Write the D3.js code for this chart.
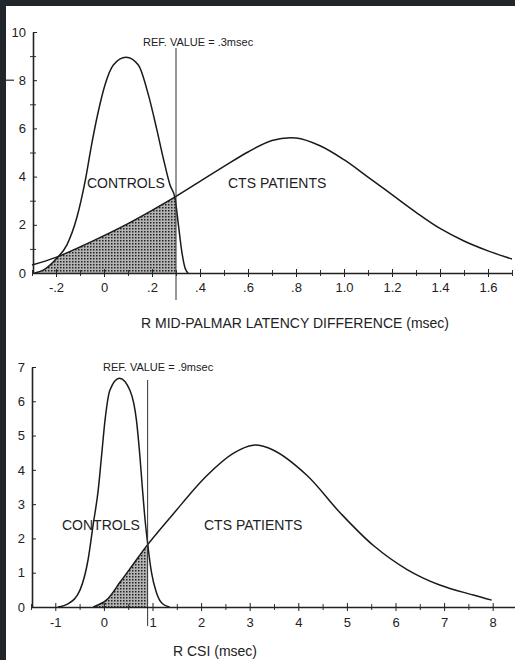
<!DOCTYPE html>
<html>
<head>
<meta charset="utf-8">
<script src="https://cdn.jsdelivr.net/npm/d3@7"></script>
<style>
  body { margin: 0; background: #fff; }
  svg { display: block; font-family: "Liberation Sans", Arial, Helvetica, sans-serif; }
  text { fill: #222; }
</style>
</head>
<body>
<svg width="515" height="660"></svg>
<script>
const svg = d3.select('svg')
const width = +svg.attr('width')
const height = +svg.attr('height')

// ---- top panel: R mid-palmar latency difference ----
const topXTicks = [-0.2, 0, 0.2, 0.4, 0.6, 0.8, 1.0, 1.2, 1.4, 1.6]
const topXLabels = ['-.2', '0', '.2', '.4', '.6', '.8', '1.0', '1.2', '1.4', '1.6']
const topYTicks = [0, 2, 4, 6, 8, 10]
const topRef = 0.3
// [msec, height]
const topControls = [
  [-0.29, 0], [-0.253, 0.12], [-0.197, 0.61], [-0.155, 1.16], [-0.114, 2.27],
  [-0.079, 3.79], [-0.052, 5.31], [-0.024, 6.69], [0.004, 7.8], [0.039, 8.63],
  [0.092, 8.95], [0.143, 8.63], [0.185, 7.39], [0.219, 6.0], [0.247, 4.76],
  [0.275, 3.65], [0.296, 3.1], [0.31, 2.0], [0.324, 0.9], [0.338, 0.2], [0.351, 0]
]
const topPatients = [
  [-0.3, 0.33], [-0.2, 0.65], [-0.1, 1.08], [0, 1.55], [0.1, 2.05], [0.2, 2.6],
  [0.3, 3.18], [0.4, 3.8], [0.5, 4.42], [0.6, 5.02], [0.7, 5.5], [0.8, 5.6],
  [0.9, 5.28], [1.0, 4.7], [1.1, 3.98], [1.2, 3.25], [1.3, 2.52],
  [1.4, 1.85], [1.5, 1.33], [1.6, 0.92], [1.7, 0.58]
]

// ---- bottom panel: R CSI ----
const botXTicks = [-1, 0, 1, 2, 3, 4, 5, 6, 7, 8]
const botXLabels = ['-1', '0', '1', '2', '3', '4', '5', '6', '7', '8']
const botYTicks = [0, 1, 2, 3, 4, 5, 6, 7]
const botRef = 0.9
const botControls = [
  [-0.95, 0], [-0.73, 0.1], [-0.49, 0.5], [-0.323, 1.4], [-0.22, 2.41],
  [-0.117, 3.41], [-0.048, 4.41], [0.021, 5.42], [0.123, 6.32], [0.32, 6.67],
  [0.535, 6.32], [0.672, 5.42], [0.74, 4.41], [0.795, 3.41], [0.85, 2.5],
  [0.9, 1.85], [0.98, 1.0], [1.08, 0.42], [1.2, 0.1], [1.35, 0]
]
const botPatients = [
  [-0.22, 0], [0.05, 0.2], [0.33, 0.72], [0.6, 1.24], [0.9, 1.82],
  [1.43, 2.72], [2.11, 3.82], [2.66, 4.48], [3.07, 4.72], [3.48, 4.58], [4.17, 3.85],
  [4.86, 2.75], [5.54, 1.8], [6.23, 1.1], [6.91, 0.64], [7.6, 0.35], [7.98, 0.2]
]

// stipple used for the overlap
const defs = svg.append('defs')
const pat = defs.append('pattern')
  .attr('id', 'dots').attr('width', 3).attr('height', 3)
  .attr('patternUnits', 'userSpaceOnUse')
pat.append('rect').attr('width', 3).attr('height', 3).attr('fill', '#b4b4b4')
pat.append('rect').attr('width', 1.5).attr('height', 1.5).attr('fill', '#222')

const drawPanel = p => {
  const x = d3.scaleLinear().domain(p.xDomain).range(p.xRange)
  const y = d3.scaleLinear().domain(p.yDomain).range(p.yRange)

  const ctrlLine = d3.line()
    .x(d => x(d[0])).y(d => y(d[1]))
    .curve(d3.curveMonotoneX)
  const ctsLine = d3.line()
    .x(d => x(d[0])).y(d => y(d[1]))
    .curve(d3.curveCatmullRom.alpha(0.5))
  const ctrlArea = d3.area()
    .x(d => x(d[0])).y0(y(0)).y1(d => y(d[1]))
    .curve(d3.curveMonotoneX)
  const ctsArea = d3.area()
    .x(d => x(d[0])).y0(y(0)).y1(d => y(d[1]))
    .curve(d3.curveCatmullRom.alpha(0.5))

  // shaded part = under both curves, left of the reference value
  defs.append('clipPath').attr('id', p.id + '-ctrl')
    .append('path').attr('d', ctrlArea(p.controls))
  defs.append('clipPath').attr('id', p.id + '-ref')
    .append('rect')
      .attr('x', x(p.xDomain[0])).attr('y', 0)
      .attr('width', x(p.ref) - x(p.xDomain[0])).attr('height', height)

  svg.append('g').attr('clip-path', `url(#${p.id}-ref)`)
    .append('path')
      .attr('d', ctsArea(p.patients))
      .attr('clip-path', `url(#${p.id}-ctrl)`)
      .attr('fill', 'url(#dots)')

  svg.append('path')
    .attr('d', ctrlLine(p.controls))
    .attr('fill', 'none').attr('stroke', '#1a1a1a').attr('stroke-width', 1.5)
  svg.append('path')
    .attr('d', ctsLine(p.patients))
    .attr('fill', 'none').attr('stroke', '#1a1a1a').attr('stroke-width', 1.5)

  // reference line
  svg.append('line')
    .attr('x1', x(p.ref)).attr('x2', x(p.ref))
    .attr('y1', p.refTop).attr('y2', p.refBottom)
    .attr('stroke', '#333').attr('stroke-width', 1)

  // x axis: minor ticks, then major ticks with labels
  const xMinor = svg.append('g')
    .attr('transform', `translate(0,${y(0)})`)
    .call(d3.axisBottom(x).tickValues(p.xMinor).tickFormat('').tickSizeOuter(0))
  xMinor.select('.domain').remove()
  xMinor.selectAll('.tick line').attr('y1', -3).attr('y2', 3).attr('stroke', '#333')

  const xAxisG = svg.append('g')
    .attr('transform', `translate(0,${y(0)})`)
    .call(d3.axisBottom(x)
      .tickValues(p.xTicks)
      .tickFormat((d, i) => p.xLabels[i])
      .tickSizeOuter(0)
      .tickSizeInner(4)
      .tickPadding(p.xPad))
  xAxisG.select('.domain').attr('stroke', '#222').attr('stroke-width', 1.6)
  xAxisG.selectAll('.tick line').attr('y1', -4).attr('stroke', '#222')
  xAxisG.selectAll('text')
    .attr('font-size', 13).attr('fill', '#222')

  // y axis
  const yMinor = svg.append('g')
    .attr('transform', `translate(${p.xRange[0] + 1},0)`)
    .call(d3.axisLeft(y).tickValues(p.yMinor).tickFormat('').tickSizeOuter(0))
  yMinor.select('.domain').remove()
  yMinor.selectAll('.tick line').attr('x1', -3).attr('x2', 3).attr('stroke', '#333')

  const yAxisG = svg.append('g')
    .attr('transform', `translate(${p.xRange[0] + 1},0)`)
    .call(d3.axisLeft(y)
      .tickValues(p.yTicks)
      .tickFormat(d3.format('d'))
      .tickSizeOuter(0)
      .tickSizeInner(4)
      .tickPadding(3))
  yAxisG.select('.domain').attr('stroke', '#222').attr('stroke-width', 1.6)
  yAxisG.selectAll('.tick line').attr('x2', 4).attr('stroke', '#222')
  yAxisG.selectAll('text')
    .attr('font-size', 13).attr('fill', '#222')

  // labels
  svg.append('text')
    .attr('x', p.refLabelX).attr('y', p.refLabelY)
    .attr('font-size', 11)
    .text(p.refLabel)
  svg.append('text')
    .attr('x', p.ctrlLabelX).attr('y', p.nameY)
    .attr('font-size', 14)
    .text('CONTROLS')
  svg.append('text')
    .attr('x', p.ctsLabelX).attr('y', p.nameY)
    .attr('font-size', 14)
    .text('CTS PATIENTS')
  svg.append('text')
    .attr('x', p.titleX).attr('y', p.titleY)
    .attr('text-anchor', 'middle')
    .attr('font-size', 14)
    .text(p.title)
}

drawPanel({
  id: 'top',
  xDomain: [-0.3, 1.7], xRange: [32, 512],
  yDomain: [0, 10], yRange: [273, 32],
  xTicks: topXTicks, xLabels: topXLabels, xPad: 6,
  xMinor: d3.range(-3, 18, 2).map(d => d / 10).concat([1.7]),
  yTicks: topYTicks, yMinor: [1, 3, 5, 7, 9],
  controls: topControls, patients: topPatients,
  ref: topRef, refTop: 48, refBottom: 300,
  refLabel: 'REF. VALUE = .3msec', refLabelX: 143, refLabelY: 46,
  ctrlLabelX: 87, ctsLabelX: 228, nameY: 188,
  title: 'R MID-PALMAR LATENCY DIFFERENCE (msec)', titleX: 295, titleY: 328
})

drawPanel({
  id: 'bot',
  xDomain: [-1.5, 8.5], xRange: [31, 517],
  yDomain: [0, 7], yRange: [607, 367],
  xTicks: botXTicks, xLabels: botXLabels, xPad: 7,
  xMinor: d3.range(-1.5, 8.5, 1),
  yTicks: botYTicks, yMinor: [],
  controls: botControls, patients: botPatients,
  ref: botRef, refTop: 380, refBottom: 626,
  refLabel: 'REF. VALUE = .9msec', refLabelX: 103, refLabelY: 371,
  ctrlLabelX: 62, ctsLabelX: 204, nameY: 530,
  title: 'R CSI (msec)', titleX: 215, titleY: 656
})

// dark screenshot frame on the top and left edges
svg.append('rect').attr('x', 0).attr('y', 0).attr('width', width).attr('height', 6).attr('fill', '#20262a')
svg.append('rect').attr('x', 0).attr('y', 0).attr('width', 6).attr('height', height).attr('fill', '#20262a')
svg.append('rect').attr('x', 6).attr('y', 79.5).attr('width', 8).attr('height', 1.5).attr('fill', '#555')
</script>
</body>
</html>
